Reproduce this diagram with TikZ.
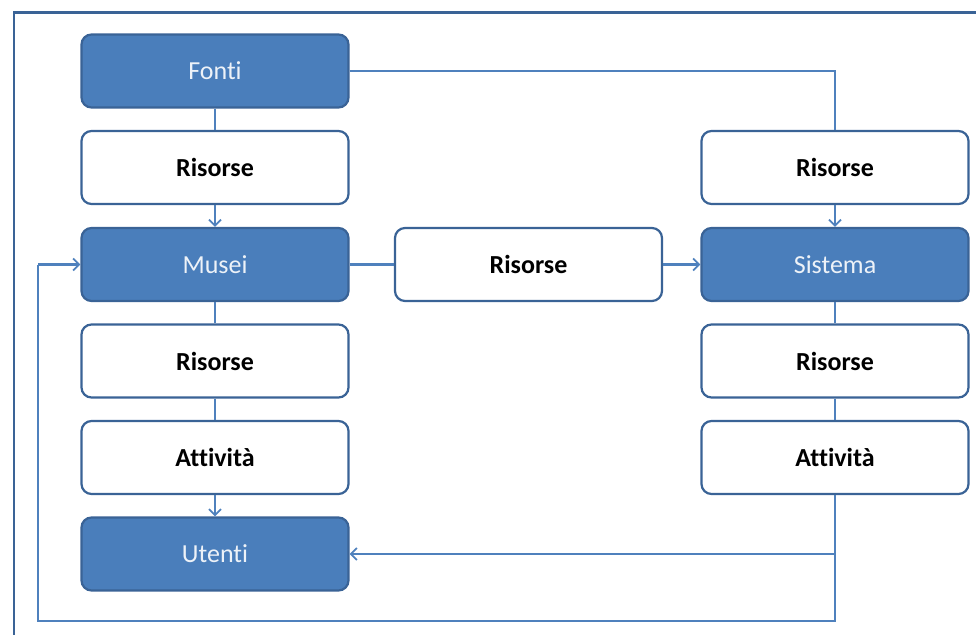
\documentclass[tikz,border=0pt]{standalone}
\usepackage{fontspec}
\setmainfont{Carlito}[Ligatures=NoCommon]
\usetikzlibrary{arrows.meta}
\definecolor{boxblue}{HTML}{4A7EBB}
\definecolor{boxedge}{HTML}{3A6396}
\definecolor{linkblue}{HTML}{4F81BD}
\tikzset{
  base/.style={rounded corners=10pt, line width=2.2pt, draw=boxedge, minimum width=267pt, minimum height=73pt, inner sep=0pt, font=\fontsize{26}{28}\selectfont},
  bluebox/.style={base, fill=boxblue, text=white!90!boxblue},
  whitebox/.style={base, fill=white, text=black, font=\fontsize{26}{28}\selectfont\bfseries},
  link/.style={draw=linkblue, line width=2.2pt},
  arr/.style={link, -{Straight Barb[length=6pt,width=12pt,line width=1.8pt]}},
  frame/.style={draw=boxedge, line width=2.4pt}
}
\begin{document}
\begin{tikzpicture}[x=1pt,y=-1pt]
\useasboundingbox (0,0) rectangle (976,634);
\draw[frame] (14,640) -- (14,12.5) -- (980,12.5);
% left column
\node[bluebox]  (fonti)  at (215,71)  {Fonti};
\node[whitebox] (r1)     at (215,167.5) {Risorse};
\node[bluebox]  (musei)  at (215,264.5) {Musei};
\node[whitebox] (r2)     at (215,361) {Risorse};
\node[whitebox] (a1)     at (215,457.5) {Attività};
\node[bluebox]  (utenti) at (215,554) {Utenti};
% middle
\node[whitebox] (rm)     at (528.5,264.5) {Risorse};
% right column
\node[whitebox] (r3)     at (835,167.5) {Risorse};
\node[bluebox]  (sist)   at (835,264.5) {Sistema};
\node[whitebox] (r4)     at (835,361) {Risorse};
\node[whitebox] (a2)     at (835,457.5) {Attività};
\coordinate (c1) at (835,71);
\coordinate (c2) at (835,554);
\coordinate (c3) at (835,621);
\coordinate (c4) at (38,621);
\coordinate (c5) at (38,264.5);
% connectors
\draw[link] (fonti) -- (r1);
\draw[arr] (r1) -- (musei);
\draw[link] (fonti.east) -- (c1) -- (r3.north);
\draw[arr] (r3) -- (sist);
\draw[link] (musei) -- (rm);
\draw[arr] (rm) -- (sist);
\draw[link] (musei) -- (r2);
\draw[link] (r2) -- (a1);
\draw[arr] (a1) -- (utenti);
\draw[link] (sist) -- (r4);
\draw[link] (r4) -- (a2);
\draw[link] (a2.south) -- (c3) -- (c4) -- (c5);
\draw[arr] (c5) -- (musei.west);
\draw[arr] (c2) -- (utenti.east);
\end{tikzpicture}
\end{document}
